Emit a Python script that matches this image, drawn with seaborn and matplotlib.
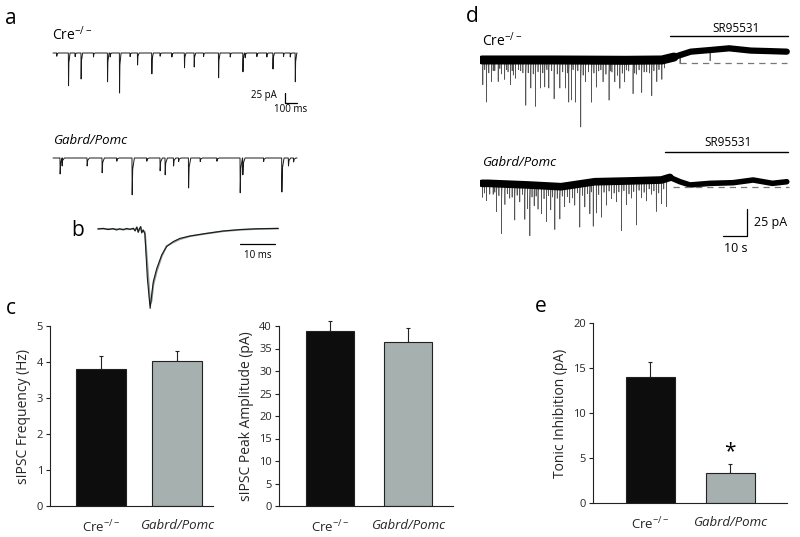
import numpy as np
import pandas as pd
import matplotlib
matplotlib.use('Agg')
import matplotlib.pyplot as plt
import seaborn as sns

sns.set_style('white')
plt.rcParams['font.family'] = ['Open Sans', 'DejaVu Sans']
plt.rcParams['mathtext.fontset'] = 'custom'
plt.rcParams['mathtext.rm'] = 'Open Sans'
plt.rcParams['mathtext.it'] = 'Open Sans:italic'
plt.rcParams['text.color'] = 'black'

# ---- bar chart data (c, e) ----
genotypes = ['Cre-/-', 'Gabrd/Pomc']
genotype_labels = ['Cre$^{-/-}$', 'Gabrd/Pomc']
freq_mean = [3.80, 4.02]
freq_sem = [0.38, 0.28]
amp_mean = [38.8, 36.5]
amp_sem = [2.4, 3.1]
tonic_mean = [14.0, 3.35]
tonic_sem = [1.7, 1.0]

# ---- panel a: sIPSC events, time (ms) and amplitude (pA) ----
a_cre_t = [30, 128, 183, 233, 336, 453, 475, 553, 641, 703, 822, 891, 989, 1094, 1175,
           1253, 1378, 1475, 1581, 1600, 1697, 1780, 1831, 1919, 1975, 2017]
a_cre_amp = [8, 82, 9, 65, 10, 72, 10, 100, 9, 30, 52, 8, 10, 37, 35,
             9, 62, 10, 47, 12, 9, 10, 40, 9, 10, 72]
a_gab_t = [58, 75, 283, 408, 530, 658, 780, 891, 933, 1003, 1045, 1128, 1225, 1364,
           1558, 1580, 1753, 1905, 1960, 2003]
a_gab_amp = [40, 20, 20, 37, 8, 92, 8, 32, 42, 20, 9, 75, 9, 8,
             87, 42, 9, 85, 20, 10]

# ---- panel b: averaged sIPSC, time (ms) and current (pA) ----
b_t = [0, 1.5, 2.9, 4.3, 5.3, 6.2, 7.2, 8.2, 9.1, 10.1, 10.6, 11.1, 11.5, 11.8, 12.2, 12.5,
       12.9, 13.4, 14.1, 14.9, 15.3, 15.8, 16.8, 18.2, 19.6, 21.5, 23.4, 26.3, 31.0, 35.8,
       40.6, 45.3, 51.5]
b_rec = [-0.5, -0.2, -0.8, -0.3, -1.0, -0.4, -0.9, -0.2, -0.7, -0.1, -1.5, 0.5, -2.2, -0.5,
         0.7, -2.5, -1.0, -3.0, -25.0, -40.2, -34.0, -26.8, -20.2, -13.5, -9.3, -6.8, -5.2,
         -4.0, -2.7, -1.5, -0.8, -0.4, -0.2]
b_fit = [-0.4, -0.4, -0.5, -0.5, -0.6, -0.6, -0.7, -0.6, -0.6, -0.5, -0.9, 0.2, -1.6, -0.8,
         0.4, -1.8, -1.2, -2.0, -18.0, -38.0, -36.5, -28.5, -21.5, -14.2, -9.0, -7.2, -5.6,
         -4.1, -2.8, -1.6, -0.9, -0.5, -0.3]

# ---- panel d: baseline holding current (s, pA) and sIPSCs (s, pA) ----
d_cre_base_t = [0, 30, 60, 75, 80, 87, 95, 103, 112, 120, 127]
d_cre_base = [2.8, 2.8, 2.5, 2.8, 5.5, 10.5, 12.0, 13.6, 11.5, 11.0, 10.5]
d_cre_t = [0.3, 1.8, 3.9, 6.7, 9.4, 11.8, 13.9, 18.2, 20.3, 22.2, 24.3, 26.1, 27.8, 30.0,
           32.4, 34.7, 36.1, 37.2, 38.9, 41.1, 43.1, 45.6, 47.6, 50.4, 52.9, 55.3, 57.4,
           59.4, 62.9, 66.5, 70.7, 72.8, 74.9, 82.5, 95.0,
           1.1, 2.8, 4.6, 5.3, 7.4, 8.1, 10.1, 10.8, 12.5, 13.0, 15.2, 16.1, 17.0, 19.2, 21.3,
           23.3, 25.3, 27.0, 29.0, 31.3, 33.6, 35.5, 37.9, 39.9, 42.1, 44.3, 46.6, 48.6,
           49.5, 51.6, 53.5, 54.1, 56.4, 58.4, 60.2, 61.1, 63.6, 64.3, 65.4, 67.5, 68.6,
           69.8, 71.6, 73.7, 76.0]
d_cre_amp = [23, 39, 20, 20, 18, 23, 17, 42, 26, 43, 26, 25, 26, 36,
             26, 26, 39, 37, 39, 62, 20, 39, 25, 20, 37, 20, 26,
             20, 31, 30, 33, 20, 18, 8, 10,
             9, 12, 10, 10, 8, 13, 9, 11, 10, 14, 9, 10, 12, 12, 13,
             11, 12, 9, 10, 13, 11, 12, 9, 10, 14, 11, 12, 10,
             9, 13, 10, 11, 14, 12, 9, 10, 12, 13, 9, 11, 11,
             12, 10, 9, 8]
d_gab_base_t = [0, 2.5, 19.2, 33.0, 47.0, 60.8, 74.7, 78.3, 82.5, 86.7, 95.0, 104.6, 113.0, 121.0, 127.0]
d_gab_base = [3.1, 3.1, 1.6, 0.0, 4.6, 5.3, 6.2, 8.6, 4.6, 1.6, 3.1, 3.7, 6.2, 3.1, 4.6]
d_gab_t = [0.2, 1.8, 4.6, 6.0, 8.1, 9.5, 11.5, 13.6, 15.7, 17.8, 18.9, 19.9, 21.7, 23.3,
           24.7, 26.8, 28.6, 30.3, 32.4, 34.4, 36.5, 38.6, 40.7, 42.8, 44.9, 46.3, 47.6,
           49.7, 51.8, 53.9, 56.0, 58.1, 60.1, 62.2, 64.3, 66.4, 68.5, 70.6, 72.6, 74.7, 76.8,
           1.0, 3.2, 5.3, 7.0, 10.5, 12.5, 14.6, 16.8, 20.8, 22.5, 25.8, 27.7, 29.4, 31.3,
           33.4, 35.5, 37.6, 39.7, 41.8, 43.9, 45.5, 48.6, 50.8, 52.9, 55.0, 57.0, 59.1,
           61.2, 63.2, 65.4, 67.5, 69.6, 71.6, 73.6, 75.7]
d_gab_amp = [13, 16, 10, 26, 46, 19, 13, 33, 16, 32, 22, 47, 19, 22,
             26, 33, 22, 40, 30, 19, 16, 19, 40, 22, 29, 41, 29,
             33, 22, 16, 19, 46, 22, 16, 41, 16, 19, 13, 29, 22, 26,
             9, 10, 8, 11, 9, 12, 10, 9, 11, 10, 12, 9, 10, 11,
             9, 10, 12, 8, 11, 10, 9, 12, 10, 9, 11, 10, 9,
             12, 10, 9, 11, 8, 10, 12, 9]

black = '#0d0d0d'
grey = '#a4b2af'

W, H = 800, 537
fig = plt.figure(figsize=(W / 100, H / 100), dpi=100)


def px_axes(x0, y0, x1, y1):
    return fig.add_axes([x0 / W, 1 - y1 / H, (x1 - x0) / W, (y1 - y0) / H])


def trace_axes(box, origin, sx, sy):
    x0, y0, x1, y1 = box
    ax = px_axes(*box)
    ax.set_xlim((x0 - origin[0]) * sx, (x1 - origin[0]) * sx)
    ax.set_ylim((origin[1] - y1) * sy, (origin[1] - y0) * sy)
    ax.axis('off')
    return ax


def spike_trace(times, amps, base_t, base_v, rise, decay):
    xs, ys = list(base_t), list(base_v)
    for t, a in zip(times, amps):
        b = np.interp(t, base_t, base_v)
        xs += [t - rise * 0.1, t + rise, t + decay * 0.3, t + decay]
        ys += [b, b - a, b - a * 0.3, b]
    df = pd.DataFrame({'t': xs, 'i': ys}).sort_values('t', kind='stable')
    return df


def panel_letter(x, y, s):
    fig.text(x / W, 1 - y / H, s, fontsize=15, ha='center', va='center')


# ---- panel a ----
ax = trace_axes((50, 40, 312, 116), (53, 53), 8.33, 2.5)
df = spike_trace(a_cre_t, a_cre_amp, [0, 2033], [0, 0], 1.5, 14)
sns.lineplot(data=df, x='t', y='i', estimator=None, sort=False, color='#1a1a1a', lw=0.7, ax=ax)
ax.plot([1933, 1933, 2033], [-100, -125, -125], color='black', lw=0.9)
ax.text(1866, -107, '25 pA', fontsize=7, ha='right', va='center')
ax.text(1983, -142, '100 ms', fontsize=7, ha='center', va='center')
ax.text(-12, 45, 'Cre$^{-/-}$', fontsize=10, ha='left', va='center')

ax = trace_axes((50, 130, 312, 205), (53, 158), 8.33, 2.5)
df = spike_trace(a_gab_t, a_gab_amp, [0, 2033], [0, 0], 1.5, 20)
sns.lineplot(data=df, x='t', y='i', estimator=None, sort=False, color='#1a1a1a', lw=0.7, ax=ax)
ax.text(0, 45, 'Gabrd/Pomc', fontsize=9.5, style='italic', ha='left', va='center')

# ---- panel b ----
ax = trace_axes((95, 218, 290, 316), (98, 228), 1 / 3.5, 0.5)
sns.lineplot(x=b_t, y=b_fit, estimator=None, sort=False, color='#8c9a97', lw=1.3, ax=ax)
sns.lineplot(x=b_t, y=b_rec, estimator=None, sort=False, color='#1a1a1a', lw=0.8, ax=ax)
ax.plot([40.6, 50.6], [-8, -8], color='black', lw=0.9)
ax.text(45.6, -13.5, '10 ms', fontsize=7, ha='center', va='center')

# ---- panel d ----
ax = trace_axes((480, 15, 792, 135), (482, 63), 0.4167, 0.926)
df = spike_trace(d_cre_t, d_cre_amp, d_cre_base_t, d_cre_base, 0.05, 0.3)
sns.lineplot(data=df, x='t', y='i', estimator=None, sort=False, color='#555555', lw=0.5, ax=ax)
pre = [t <= 80 for t in d_cre_base_t]
post = [t >= 75 for t in d_cre_base_t]
sns.lineplot(x=np.array(d_cre_base_t)[pre], y=np.array(d_cre_base)[pre], estimator=None,
             color='black', lw=6.5, ax=ax)
sns.lineplot(x=np.array(d_cre_base_t)[post], y=np.array(d_cre_base)[post], estimator=None,
             color='black', lw=4.5, ax=ax)
ax.plot([82.5, 127], [0, 0], color='#777777', lw=0.9, dashes=(5, 4))
ax.plot([78.3, 127.5], [25, 25], color='black', lw=1.0)
ax.text(106, 32, 'SR95531', fontsize=8.5, ha='center', va='center')
ax.text(0, 21, 'Cre$^{-/-}$', fontsize=10, ha='left', va='center')

ax = trace_axes((480, 135, 792, 262), (482, 186.7), 0.4167, 0.926)
df = spike_trace(d_gab_t, d_gab_amp, d_gab_base_t, d_gab_base, 0.05, 0.3)
sns.lineplot(data=df, x='t', y='i', estimator=None, sort=False, color='#555555', lw=0.5, ax=ax)
pre = [t <= 79 for t in d_gab_base_t]
post = [t >= 74 for t in d_gab_base_t]
sns.lineplot(x=np.array(d_gab_base_t)[pre], y=np.array(d_gab_base)[pre], estimator=None,
             color='black', lw=5.5, ax=ax)
sns.lineplot(x=np.array(d_gab_base_t)[post], y=np.array(d_gab_base)[post], estimator=None,
             color='black', lw=4.0, ax=ax)
ax.plot([79.6, 128], [0, 0], color='#777777', lw=0.9, dashes=(5, 4))
ax.plot([76.3, 127.5], [32, 32], color='black', lw=1.0)
ax.text(102.5, 41, 'SR95531', fontsize=8.5, ha='center', va='center')
ax.text(0, 22.5, 'Gabrd/Pomc', fontsize=9.5, style='italic', ha='left', va='center')
ax.plot([100.4, 110.4, 110.4], [-45.6, -45.6, -20.6], color='black', lw=0.9)
ax.text(113.5, -33, '25 pA', fontsize=9, ha='left', va='center')
ax.text(105.8, -57.5, '10 s', fontsize=9, ha='center', va='center')


# ---- bar panels ----
def bar_panel(box, means, sems, ylim, yticks, ylabel, xlim, width):
    ax = px_axes(*box)
    df = pd.DataFrame({'genotype': genotypes, 'value': means})
    sns.barplot(data=df, x='genotype', y='value', hue='genotype', palette=[black, grey],
                width=width, edgecolor='#222222', linewidth=0.8, legend=False, ax=ax)
    ax.errorbar([0, 1], means, yerr=[[0, 0], sems], fmt='none', ecolor='#222222',
                elinewidth=0.8, capsize=1.5, capthick=0.8, zorder=1, clip_on=False)
    for p in ax.patches:
        p.set_zorder(2)
    ax.set_xlim(*xlim)
    ax.set_ylim(*ylim)
    ax.set_yticks(yticks)
    ax.set_xticks([0, 1])
    ax.set_xticklabels(genotype_labels, fontsize=9.5)
    ax.get_xticklabels()[1].set_style('italic')
    ax.set_xlabel('')
    ax.set_ylabel(ylabel, fontsize=10, labelpad=4)
    sns.despine(ax=ax)
    for s in ['left', 'bottom']:
        ax.spines[s].set_color('#222222')
        ax.spines[s].set_linewidth(0.8)
    ax.tick_params(axis='y', left=True, length=3, width=0.8, color='#222222',
                   labelsize=8, pad=2)
    ax.tick_params(axis='x', bottom=False, pad=6)
    return ax


bar_panel((50, 326, 213, 506), freq_mean, freq_sem, (0, 5), [0, 1, 2, 3, 4, 5],
          'sIPSC Frequency (Hz)', (-0.67, 1.47), 0.66)
bar_panel((279, 326, 453, 506), amp_mean, amp_sem, (0, 40), list(range(0, 45, 5)),
          'sIPSC Peak Amplitude (pA)', (-0.65, 1.57), 0.61)
ax = bar_panel((593, 323, 787, 503), tonic_mean, tonic_sem, (0, 20), [0, 5, 10, 15, 20],
               'Tonic Inhibition (pA)', (-0.72, 1.71), 0.61)
ax.text(1, tonic_mean[1] + tonic_sem[1] + 1.4, '*', fontsize=15, ha='center', va='center')

panel_letter(11, 18, 'a')
panel_letter(78, 230, 'b')
panel_letter(11, 308, 'c')
panel_letter(472, 16, 'd')
panel_letter(541, 306, 'e')

fig.savefig('out.png', dpi=100)
